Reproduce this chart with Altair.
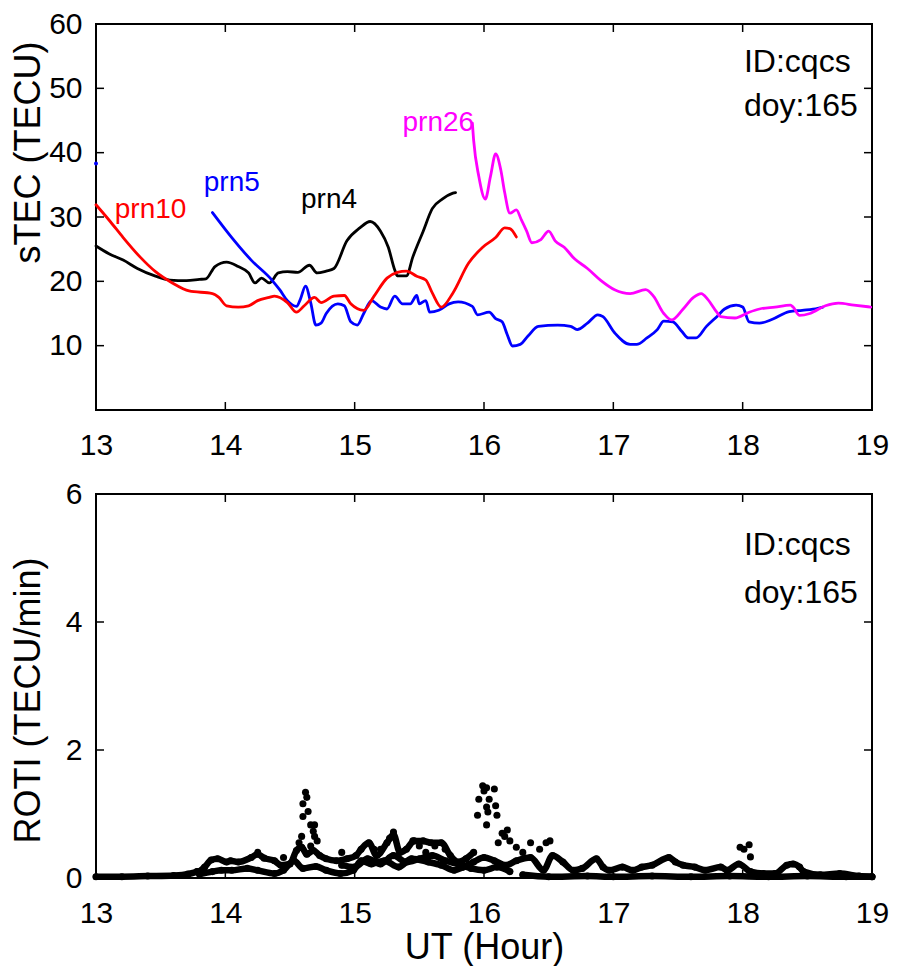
import altair as alt
import pandas as pd

FONT = "Liberation Sans"

# ---------------- sTEC series (UT hour, TECU) ----------------
prn4_t = [13.00, 13.10, 13.21, 13.32, 13.46, 13.57, 13.70, 13.80, 13.85, 13.92, 14.01, 14.10, 14.18, 14.23,
          14.28, 14.34, 14.41, 14.48, 14.56, 14.65, 14.71, 14.78, 14.84, 14.94, 15.04, 15.12, 15.20, 15.26,
          15.31, 15.33, 15.40, 15.45, 15.53, 15.60, 15.68, 15.76, 15.78]
prn4_v = [25.5, 24.3, 23.3, 22.0, 20.8, 20.2, 20.1, 20.3, 20.4, 22.3, 23.0, 22.3, 21.3, 19.75,
          20.5, 19.75, 21.3, 21.5, 21.4, 22.5, 21.3, 21.6, 22.0, 26.3, 28.3, 29.3, 27.8, 25.3,
          21.75, 20.85, 20.85, 23.8, 27.8, 31.3, 32.8, 33.7, 33.8]

prn10_t = [13.00, 13.11, 13.21, 13.34, 13.46, 13.59, 13.72, 13.90, 13.95, 14.01, 14.10, 14.18, 14.25, 14.34,
           14.38, 14.48, 14.55, 14.61, 14.69, 14.74, 14.84, 14.92, 14.97, 15.07, 15.15, 15.25, 15.33, 15.40,
           15.48, 15.55, 15.60, 15.67, 15.76, 15.88, 15.99, 16.09, 16.16, 16.20, 16.25]
prn10_v = [31.9, 29.3, 26.8, 23.8, 21.5, 19.75, 18.5, 18.1, 17.5, 16.2, 16.0, 16.2, 17.0, 17.5,
           17.7, 16.7, 15.2, 16.2, 17.5, 16.7, 17.7, 17.8, 16.5, 15.5, 17.7, 20.5, 21.4, 21.6,
           20.8, 20.2, 18.2, 16.0, 18.2, 22.8, 25.3, 26.8, 28.3, 28.2, 26.9]

prn5_t = [13.90, 14.05, 14.20, 14.36, 14.42, 14.48, 14.55, 14.58, 14.62, 14.66, 14.70, 14.74, 14.78, 14.87,
          14.92, 14.97, 15.02, 15.07, 15.13, 15.20, 15.25, 15.31, 15.37, 15.43, 15.48, 15.50, 15.55, 15.58,
          15.65, 15.73, 15.80, 15.91, 15.95, 16.04, 16.09, 16.14, 16.18, 16.22, 16.28, 16.34, 16.42, 16.57,
          16.67, 16.72, 16.80, 16.88, 16.92, 17.01, 17.13, 17.18, 17.26, 17.34, 17.39, 17.46, 17.53, 17.58,
          17.64, 17.72, 17.81, 17.86, 17.95, 18.00, 18.05, 18.13, 18.23, 18.36, 18.46, 18.58, 18.62]
prn5_v = [30.7, 26.8, 23.3, 20.2, 18.7, 17.0, 16.1, 17.2, 19.25, 16.7, 13.2, 13.5, 15.0, 16.5,
          16.2, 13.7, 13.2, 15.0, 17.0, 16.0, 15.7, 17.7, 16.5, 16.5, 17.8, 16.5, 17.0, 15.2,
          15.5, 16.5, 16.8, 16.1, 14.8, 15.2, 14.2, 13.7, 11.7, 9.95, 10.2, 11.5, 13.0, 13.2,
          13.0, 12.5, 13.5, 14.8, 14.5, 12.0, 10.2, 10.2, 11.2, 12.5, 13.8, 13.7, 12.2, 11.2,
          11.2, 13.0, 14.7, 15.7, 16.3, 16.0, 13.7, 13.5, 14.1, 15.3, 15.5, 15.8, 16.0]
prn5_dot_t = [13.0]
prn5_dot_v = [38.3]

prn26_t = [15.91, 15.92, 15.96, 16.01, 16.05, 16.09, 16.13, 16.16, 16.20, 16.25, 16.29, 16.33, 16.37, 16.44,
           16.50, 16.55, 16.62, 16.70, 16.80, 16.90, 17.01, 17.13, 17.25, 17.31, 17.39, 17.45, 17.54, 17.62,
           17.68, 17.73, 17.80, 17.83, 17.94, 18.05, 18.13, 18.25, 18.37, 18.39, 18.44, 18.52, 18.64, 18.74,
           18.86, 18.99]
prn26_v = [44.6, 41.9, 36.3, 32.8, 36.3, 39.8, 37.3, 33.8, 30.6, 31.1, 29.5, 27.8, 26.0, 26.5,
           27.8, 26.3, 25.3, 23.5, 22.0, 20.2, 18.7, 18.1, 18.7, 17.7, 15.0, 14.0, 15.7, 17.5,
           18.1, 17.2, 15.2, 14.5, 14.3, 15.2, 15.7, 16.0, 16.3, 16.0, 14.7, 15.0, 16.2, 16.6,
           16.3, 16.0]

prn_names = ["prn4", "prn5", "prn10", "prn26"]
prn_colors = ["#000000", "#0000ff", "#ff0000", "#ff00ff"]

# labels of the satellites (UT hour, TECU at text baseline)
lab_text = ["prn10", "prn5", "prn4", "prn26"]
lab_t = [13.145, 13.833, 14.585, 15.37]
lab_v = [29.85, 34.07, 31.45, 43.42]

# ---------------- ROTI ----------------
roti_a_t = [13.00, 13.20, 13.40, 13.60, 13.71, 13.78]
roti_a_v = [0.02, 0.02, 0.03, 0.04, 0.06, 0.10]

roti_b_t = [13.80, 13.84, 13.89, 13.94, 14.01, 14.04, 14.10, 14.20, 14.25, 14.30, 14.38, 14.43, 14.50, 14.55,
            14.59, 14.63, 14.68, 14.73, 14.78, 14.86, 14.94, 15.01, 15.05, 15.11, 15.17, 15.25, 15.30, 15.35,
            15.40, 15.46, 15.53, 15.59, 15.67, 15.74, 15.80, 15.86, 15.92]
roti_b_v = [0.10, 0.17, 0.28, 0.30, 0.25, 0.27, 0.25, 0.32, 0.37, 0.31, 0.27, 0.20, 0.22, 0.43,
            0.48, 0.37, 0.43, 0.35, 0.30, 0.27, 0.30, 0.35, 0.45, 0.55, 0.35, 0.55, 0.68, 0.40,
            0.45, 0.58, 0.58, 0.55, 0.55, 0.35, 0.25, 0.30, 0.40]

roti_c_t = [13.80, 13.90, 13.97, 14.05, 14.17, 14.25, 14.38, 14.45, 14.53, 14.60, 14.70, 14.78, 14.89, 14.99,
            15.05, 15.13, 15.23, 15.34, 15.44, 15.57, 15.67, 15.77, 15.84, 15.92, 16.00, 16.08, 16.17, 16.25,
            16.36, 16.46, 16.53, 16.61, 16.69, 16.76, 16.87, 16.92, 16.97, 17.07, 17.15, 17.22, 17.30, 17.43,
            17.48, 17.54, 17.63, 17.71, 17.83, 17.88, 17.97, 18.06, 18.16, 18.25, 18.34, 18.39, 18.44, 18.47,
            18.60, 18.75, 18.90, 19.00]
roti_c_v = [0.06, 0.10, 0.12, 0.12, 0.15, 0.12, 0.07, 0.12, 0.27, 0.15, 0.18, 0.12, 0.07, 0.12,
            0.27, 0.22, 0.27, 0.17, 0.30, 0.25, 0.20, 0.12, 0.17, 0.25, 0.32, 0.27, 0.20, 0.27,
            0.32, 0.12, 0.35, 0.25, 0.12, 0.15, 0.30, 0.17, 0.12, 0.17, 0.12, 0.17, 0.20, 0.32,
            0.25, 0.20, 0.17, 0.12, 0.17, 0.12, 0.22, 0.10, 0.07, 0.07, 0.20, 0.22, 0.17, 0.10,
            0.05, 0.07, 0.03, 0.02]

roti_d_t = [16.30, 16.50, 16.80, 17.00, 17.30, 17.60, 17.90, 18.20, 18.50, 18.80, 19.00]
roti_d_v = [0.05, 0.02, 0.03, 0.02, 0.03, 0.02, 0.03, 0.02, 0.03, 0.02, 0.02]

roti_e_t = [14.90, 15.00, 15.10, 15.20, 15.30, 15.40, 15.50, 15.60, 15.70, 15.80, 15.90, 16.00, 16.10, 16.20]
roti_e_v = [0.20, 0.17, 0.30, 0.22, 0.35, 0.25, 0.30, 0.35, 0.27, 0.22, 0.15, 0.12, 0.17, 0.10]

roti_pts_t = [14.62, 14.63, 14.60, 14.64, 14.60, 14.66, 14.69, 14.68, 14.69, 14.59, 14.71, 14.66, 14.57,
              15.99, 16.02, 16.08, 16.00, 15.96, 16.04, 16.09, 16.02, 16.03, 15.95, 16.10, 16.02, 16.18,
              16.16, 16.11, 16.20, 16.25, 16.36, 16.48, 16.51, 16.43, 16.14,
              15.30, 15.27, 15.20, 15.45, 15.50, 15.62, 15.70, 16.30, 17.98, 18.01, 18.05, 18.06,
              14.25, 14.45, 14.90, 15.15, 15.55]
roti_pts_v = [1.34, 1.26, 1.16, 1.04, 0.96, 0.83, 0.83, 0.73, 0.65, 0.65, 0.58, 0.50, 0.55,
              1.44, 1.41, 1.39, 1.36, 1.23, 1.23, 1.13, 1.11, 1.03, 0.98, 0.98, 0.83, 0.75,
              0.65, 0.55, 0.58, 0.48, 0.55, 0.55, 0.58, 0.45, 0.70,
              0.72, 0.62, 0.45, 0.58, 0.50, 0.50, 0.45, 0.40, 0.48, 0.45, 0.52, 0.33,
              0.40, 0.32, 0.40, 0.45, 0.40]

x_labels = [13, 14, 15, 16, 17, 18, 19]
x_inner_ticks = [14, 15, 16, 17, 18]
y1_labels = [10, 20, 30, 40, 50, 60]
y1_inner_ticks = [10, 20, 30, 40, 50]
y2_labels = [0, 2, 4, 6]
y2_inner_ticks = [2, 4]

station_text = ["ID:cqcs", "doy:165"]
station_t = [18.01, 18.01]
station_v_top = [52.6, 45.7]
station_v_bot = [5.04, 4.30]

# ---------------- data frames ----------------
rows = []
for name, ts, vs in [("prn4", prn4_t, prn4_v), ("prn5", prn5_t, prn5_v),
                     ("prn10", prn10_t, prn10_v), ("prn26", prn26_t, prn26_v)]:
    for t, v in zip(ts, vs):
        rows.append({"t": t, "v": v, "prn": name})
stec_df = pd.DataFrame(rows)
dot_df = pd.DataFrame({"t": prn5_dot_t, "v": prn5_dot_v, "prn": ["prn5"] * len(prn5_dot_t)})
lab_df = pd.DataFrame({"t": lab_t, "v": lab_v, "prn": lab_text, "text": lab_text})

roti_rows = []
for tid, ts, vs in [("a", roti_a_t, roti_a_v), ("b", roti_b_t, roti_b_v), ("c", roti_c_t, roti_c_v),
                    ("d", roti_d_t, roti_d_v), ("e", roti_e_t, roti_e_v)]:
    for t, v in zip(ts, vs):
        roti_rows.append({"t": t, "v": v, "track": tid})
roti_df = pd.DataFrame(roti_rows)
roti_pts_df = pd.DataFrame({"t": roti_pts_t, "v": roti_pts_v})

W = 776
H1 = 386
H2 = 384

xscale = alt.Scale(domain=[13, 19], nice=False, zero=False)
y1scale = alt.Scale(domain=[0, 60], nice=False, zero=False)
y2scale = alt.Scale(domain=[0, 6], nice=False, zero=False)

common_axis = dict(ticks=False, domain=False, grid=False, labelFont=FONT, labelFontSize=30,
                   labelColor="black", labelOverlap=False, labelFlush=False, titleFont=FONT,
                   titleFontSize=36, titleFontWeight="normal", titleColor="black")

xaxis_top = alt.Axis(values=x_labels, title=None, labelPadding=20, format="d", **common_axis)
xaxis_bot = alt.Axis(values=x_labels, title="UT (Hour)", labelPadding=20, titlePadding=2, format="d",
                     **common_axis)
yaxis_top = alt.Axis(values=y1_labels, title="sTEC (TECU)", labelPadding=14, format="d",
                     titleX=-49, titleY=128, titleBaseline="bottom", **common_axis)
yaxis_bot = alt.Axis(values=y2_labels, title="ROTI (TECU/min)", labelPadding=14, format="d",
                     titleX=-49, titleY=206, titleBaseline="bottom", **common_axis)

color = alt.Color("prn:N", scale=alt.Scale(domain=prn_names, range=prn_colors), legend=None)


def panel(xaxis, yaxis, yscale, H, yticks, layers_fn):
    X = alt.X("t:Q", scale=xscale, axis=xaxis)
    Y = alt.Y("v:Q", scale=yscale, axis=yaxis)
    xt_df = pd.DataFrame({"t": x_inner_ticks})
    yt_df = pd.DataFrame({"v": yticks})
    ticks = [
        alt.Chart(xt_df).mark_rule(color="black", strokeWidth=1.5).encode(x=X, y=alt.value(0), y2=alt.value(8)),
        alt.Chart(xt_df).mark_rule(color="black", strokeWidth=1.5).encode(x=X, y=alt.value(H), y2=alt.value(H - 8)),
        alt.Chart(yt_df).mark_rule(color="black", strokeWidth=1.5).encode(y=Y, x=alt.value(0), x2=alt.value(8)),
        alt.Chart(yt_df).mark_rule(color="black", strokeWidth=1.5).encode(y=Y, x=alt.value(W), x2=alt.value(W - 8)),
    ]
    return alt.layer(*(layers_fn(X, Y) + ticks)).properties(width=W, height=H)


def top_layers(X, Y):
    lines = alt.Chart(stec_df).mark_line(strokeWidth=2.8, strokeJoin="round", strokeCap="round",
                                         interpolate="monotone").encode(
        x=X, y=Y, color=color, detail="prn:N", order="t:Q")
    dot = alt.Chart(dot_df).mark_circle(size=16, opacity=1).encode(x=X, y=Y, color=color)
    labs = alt.Chart(lab_df).mark_text(font=FONT, fontSize=28, align="left", baseline="alphabetic").encode(
        x=X, y=Y, text="text:N", color=color)
    st_df = pd.DataFrame({"t": station_t, "v": station_v_top, "text": station_text})
    st = alt.Chart(st_df).mark_text(font=FONT, fontSize=32, align="left", baseline="alphabetic",
                                    color="black").encode(x=X, y=Y, text="text:N")
    return [lines, dot, labs, st]


def bot_layers(X, Y):
    tracks = alt.Chart(roti_df).mark_line(strokeWidth=6.5, color="black", strokeJoin="round",
                                          strokeCap="round", interpolate="monotone").encode(
        x=X, y=Y, detail="track:N", order="t:Q")
    tpts = alt.Chart(roti_df).mark_circle(size=50, color="black", opacity=1).encode(x=X, y=Y)
    pts = alt.Chart(roti_pts_df).mark_circle(size=50, color="black", opacity=1).encode(x=X, y=Y)
    st_df = pd.DataFrame({"t": station_t, "v": station_v_bot, "text": station_text})
    st = alt.Chart(st_df).mark_text(font=FONT, fontSize=32, align="left", baseline="alphabetic",
                                    color="black").encode(x=X, y=Y, text="text:N")
    return [tracks, tpts, pts, st]


top = panel(xaxis_top, yaxis_top, y1scale, H1, y1_inner_ticks, top_layers)
bot = panel(xaxis_bot, yaxis_bot, y2scale, H2, y2_inner_ticks, bot_layers)

chart = alt.vconcat(top, bot, spacing=17).properties(
    padding={"left": 0, "top": 0, "right": 0, "bottom": 0},
    background="white",
).configure_view(stroke="black", strokeWidth=2)

chart.save("out.html", embed_options={"renderer": "svg", "actions": False})
